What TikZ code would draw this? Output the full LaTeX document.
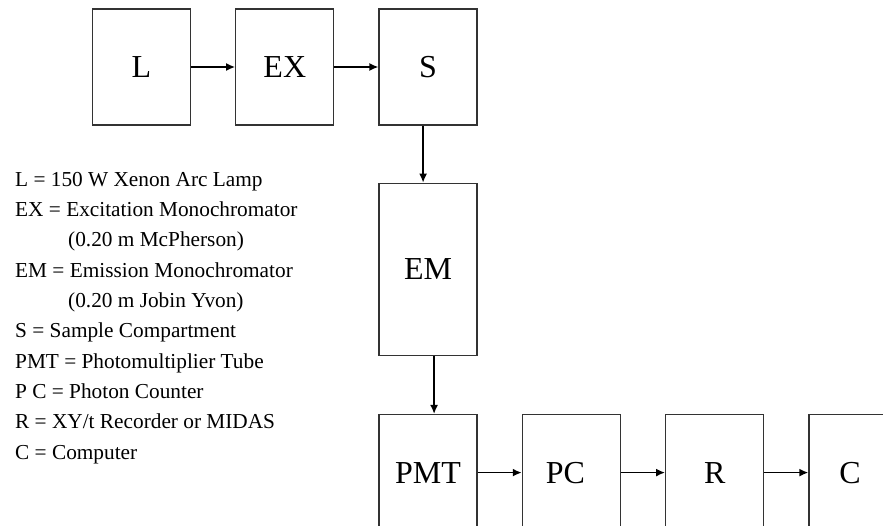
\documentclass[tikz,border=0pt]{standalone}
\usepackage{fontspec}
\setmainfont{Liberation Serif}
\usetikzlibrary{positioning,arrows.meta}

\begin{document}
\begin{tikzpicture}[x=1pt,y=-1pt,
        box/.style={draw=black!80, line width=1.3pt, minimum width=98pt, minimum height=116pt,
                    inner sep=0pt, font=\fontsize{32}{38}\selectfont},
        tall box/.style={box, minimum height=172pt},
        flow/.style={-{Latex[length=9pt,width=8pt]}, line width=1.7pt}]
        \useasboundingbox (0,0) rectangle (883,525);
        \clip (0,0) rectangle (883,525);

        % top row
        \node[box]                   (L)  at (141.5,67) {L};
        \node[box, right=44pt of L]  (EX) {EX};
        \node[box, right=44pt of EX] (S)  {S};

        % down the middle
        \node[tall box, below=57pt of S] (EM)  {EM};
        \node[box, below=58pt of EM]     (PMT) {PMT};

        % bottom row
        \node[box, right=44pt of PMT] (PC) {PC\hspace*{12pt}};
        \node[box, right=44pt of PC]  (R)  {R};
        \node[box, right=44pt of R]   (C)  {C\hspace*{16pt}};

        \draw[flow] (L)  -- (EX);
        \draw[flow] (EX) -- (S);
        \draw[flow] ([xshift=-5pt]S.south) -- ([xshift=-5pt]EM.north);
        \draw[flow] ([xshift=6pt]EM.south) -- ([xshift=6pt]PMT.north);
        \draw[flow] (PMT) -- (PC);
        \draw[flow] (PC)  -- (R);
        \draw[flow] (R)   -- (C);

        % key
        \node[anchor=north west, align=left, inner sep=0pt,
              font=\fontsize{21.3}{30.3}\selectfont] (key) at (15,172) {%
          L = 150 W Xenon Arc Lamp\\
          EX = Excitation Monochromator\\
          \hspace*{53pt}(0.20 m McPherson)\\
          EM = Emission Monochromator\\
          \hspace*{53pt}(0.20 m Jobin Yvon)\\
          S = Sample Compartment\\
          PMT = Photomultiplier Tube\\
          P C = Photon Counter\\
          R = XY/t Recorder or MIDAS\\
          C = Computer};
\end{tikzpicture}
\end{document}
